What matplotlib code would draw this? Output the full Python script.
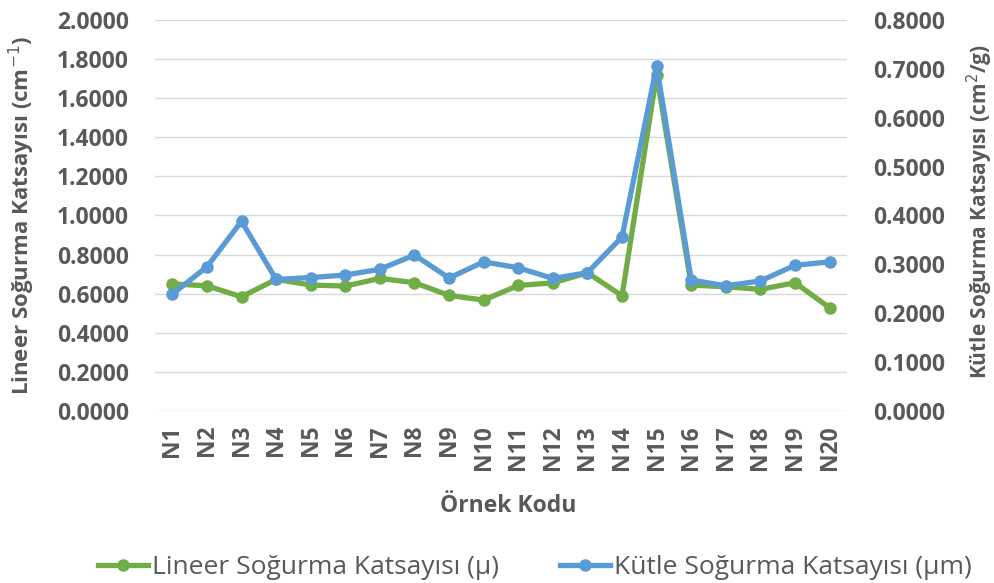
import numpy as np
import matplotlib
matplotlib.use('Agg')
import matplotlib.pyplot as plt

plt.rcParams['font.family'] = ['Open Sans', 'DejaVu Sans']

codes = ['N%d' % i for i in range(1, 21)]
lineer = [0.650, 0.640, 0.584, 0.673, 0.644, 0.639, 0.678, 0.656, 0.591, 0.567,
          0.642, 0.655, 0.707, 0.589, 1.720, 0.644, 0.635, 0.622, 0.656, 0.528]
kutle = [0.239, 0.295, 0.388, 0.269, 0.273, 0.278, 0.290, 0.319, 0.272, 0.305,
         0.293, 0.271, 0.283, 0.356, 0.706, 0.268, 0.256, 0.266, 0.298, 0.305]
left_ticks = np.arange(0, 2.01, 0.2)
right_ticks = np.arange(0, 0.81, 0.1)

green = '#70AD47'
blue = '#5B9BD5'
txt = '#595959'

fig = plt.figure(figsize=(9.94, 5.83), dpi=100)
ax = fig.add_axes([0.156, 0.295, 0.696, 0.671])
ax2 = ax.twinx()

x = np.arange(len(codes))
l1, = ax.plot(x, lineer, color=green, lw=3.8, marker='o', ms=8, label='Lineer Soğurma Katsayısı (µ)')
l2, = ax2.plot(x, kutle, color=blue, lw=3.8, marker='o', ms=8, label='Kütle Soğurma Katsayısı (µm)')
ax.set_zorder(ax2.get_zorder() - 1)
ax2.patch.set_visible(False)

ax.set_ylim(0, 2.0)
ax2.set_ylim(0, 0.8)
ax.set_xlim(-0.5, len(codes) - 0.5)
ax.set_yticks(left_ticks)
ax.set_yticklabels(['%.4f' % v for v in left_ticks])
ax2.set_yticks(right_ticks)
ax2.set_yticklabels(['%.4f' % v for v in right_ticks])
ax.set_xticks(x)
ax.set_xticklabels(codes, rotation=90)

ax.grid(axis='y', color='#D9D9D9', lw=1)
for a in (ax, ax2):
    for s in a.spines.values():
        s.set_visible(False)
    a.tick_params(length=0, colors=txt, labelsize=16.5)
    for t in a.get_yticklabels() + a.get_xticklabels():
        t.set_fontweight('bold')
ax.tick_params(axis='y', pad=19)
ax2.tick_params(axis='y', pad=19)
ax.tick_params(axis='x', pad=10)

# axis titles placed in figure pixels to match the original layout
fig.text(22 / 994, 1 - 215 / 583, 'Lineer Soğurma Katsayısı (cm$^{-1}$)', rotation=90,
         ha='center', va='center', color=txt, fontsize=16, fontweight='bold')
fig.text(980 / 994, 1 - 212 / 583, 'Kütle Soğurma Katsayısı (cm$^{2}$/g)', rotation=90,
         ha='center', va='center', color=txt, fontsize=15, fontweight='bold')
fig.text(508 / 994, 1 - 506 / 583, 'Örnek Kodu', ha='center', va='center',
         color=txt, fontsize=16.5, fontweight='bold')

fig.legend(handles=[l1, l2], loc='center', bbox_to_anchor=(0.538, 0.027), ncol=2,
           frameon=False, fontsize=19, handlelength=1.9, columnspacing=2.3, labelcolor=txt,
           handletextpad=0.15, borderaxespad=0)

fig.savefig('out.png', dpi=100)
